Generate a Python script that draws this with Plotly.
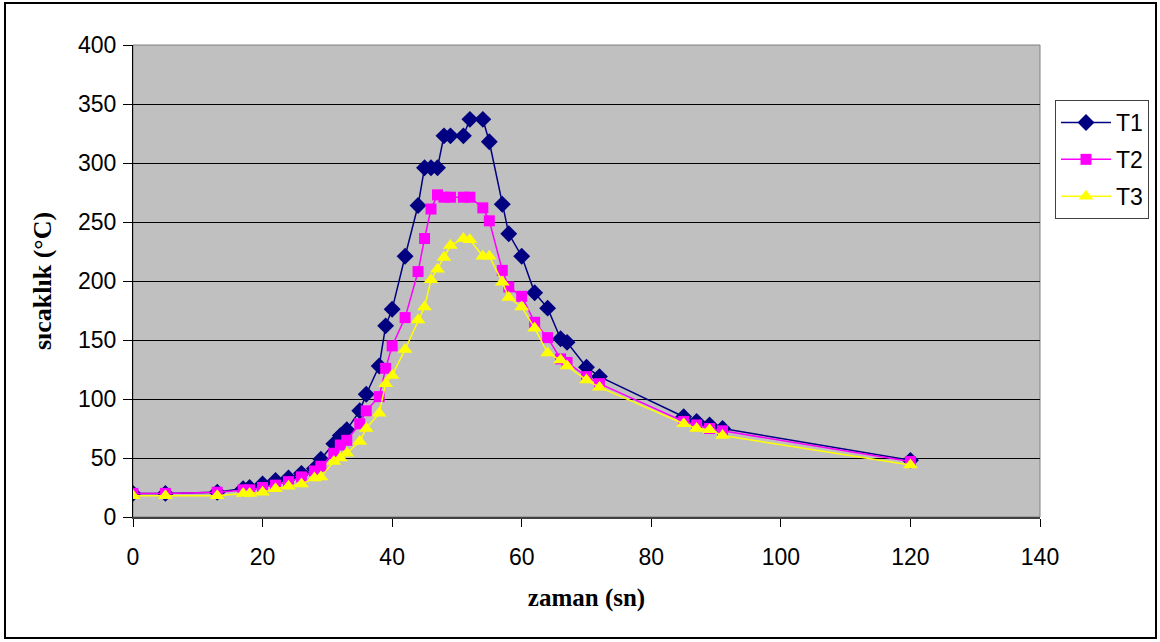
import plotly.graph_objects as go

zaman = [0, 5, 13, 17, 18, 20, 22, 24, 26, 28, 29, 31, 32, 33, 35, 36, 38, 39, 40, 42,
         44, 45, 46, 47, 48, 49, 51, 52, 54, 55, 57, 58, 60, 62, 64, 66, 67, 70, 72,
         85, 87, 89, 91, 120]
T1 = [20, 20, 21, 24, 25, 28, 31, 33, 37, 41, 49, 62, 69, 74, 90, 104, 128, 162, 176, 221,
      264, 296, 296, 296, 323, 323, 323, 337, 337, 318, 265, 240, 221, 190, 177, 151, 148, 127, 119,
      85, 81, 78, 75, 48]
T2 = [20, 20, 21, 23, 23, 25, 27, 30, 34, 39, 43, 54, 61, 65, 79, 90, 102, 126, 145, 169,
      208, 236, 261, 273, 271, 271, 271, 271, 262, 251, 209, 195, 187, 165, 152, 134, 131, 119, 113,
      81, 78, 75, 73, 47]
T3 = [18, 18, 18, 20, 20, 21, 24, 26, 28, 33, 34, 47, 50, 54, 64, 75, 88, 113, 120, 142,
      167, 178, 201, 210, 220, 230, 236, 235, 221, 221, 199, 186, 178, 160, 139, 133, 128, 116, 110,
      79, 75, 74, 69, 44]

series = [
    ("T1", T1, "#000080", "diamond", 13),
    ("T2", T2, "#FF00FF", "square", 11),
    ("T3", T3, "#FFFF00", "triangle-up", 13),
]

fig = go.Figure()
for i, (name, ys, col, sym, sz) in enumerate(series):
    fig.add_trace(go.Scatter(
        x=zaman, y=ys, name=name, mode="lines+markers",
        line=dict(color=col, width=1.5),
        marker=dict(color=col, symbol=sym, size=sz, line=dict(width=0)),
        legendgroup=name,
    ))

W, H = 1160, 642
L, R, T, B = 133, 1040, 45, 517
pw, ph = R - L, B - T

def px_x(v):
    return (v - L) / pw

def px_y(v):
    return (B - v) / ph

fig.update_layout(
    width=W, height=H,
    margin=dict(l=L, r=W - R, t=T, b=H - B, autoexpand=False),
    paper_bgcolor="white",
    plot_bgcolor="#C0C0C0",
    font=dict(family="Liberation Sans, Arial", size=23, color="black"),
    showlegend=True,
    legend=dict(
        x=px_x(1055), y=px_y(100), xanchor="left", yanchor="top",
        bgcolor="white", bordercolor="#404040", borderwidth=1,
        font=dict(size=23, family="Liberation Sans, Arial"),
        tracegroupgap=4, itemwidth=50,
    ),
    xaxis=dict(
        range=[0, 140], dtick=20, tick0=0,
        showgrid=False, zeroline=False,
        showline=True, linecolor="#404040", linewidth=2,
        ticks="outside", ticklen=8, tickcolor="black", tickwidth=1,
        ticklabelstandoff=10,
        title=dict(text="zaman (sn)", standoff=20,
                   font=dict(family="Liberation Serif, Times New Roman", size=25, weight="bold")),
    ),
    yaxis=dict(
        range=[0, 400], dtick=50, tick0=0,
        showgrid=True, gridcolor="black", gridwidth=1,
        zeroline=False,
        showline=True, linecolor="black", linewidth=1,
        ticks="outside", ticklen=9, tickcolor="black", tickwidth=1,
        ticklabelstandoff=2,
        title=dict(text="sıcaklık (°C)", standoff=18,
                   font=dict(family="Liberation Serif, Times New Roman", size=26, weight="bold")),
    ),
    shapes=[
        dict(type="rect", xref="paper", yref="paper", x0=0, x1=1, y0=0, y1=1,
             line=dict(color="#808080", width=1), layer="below"),
        dict(type="rect", xref="paper", yref="paper",
             x0=px_x(5), x1=px_x(1156), y0=px_y(638), y1=px_y(3),
             line=dict(color="black", width=2), layer="above"),
    ],
)

fig.write_html("out.html")
